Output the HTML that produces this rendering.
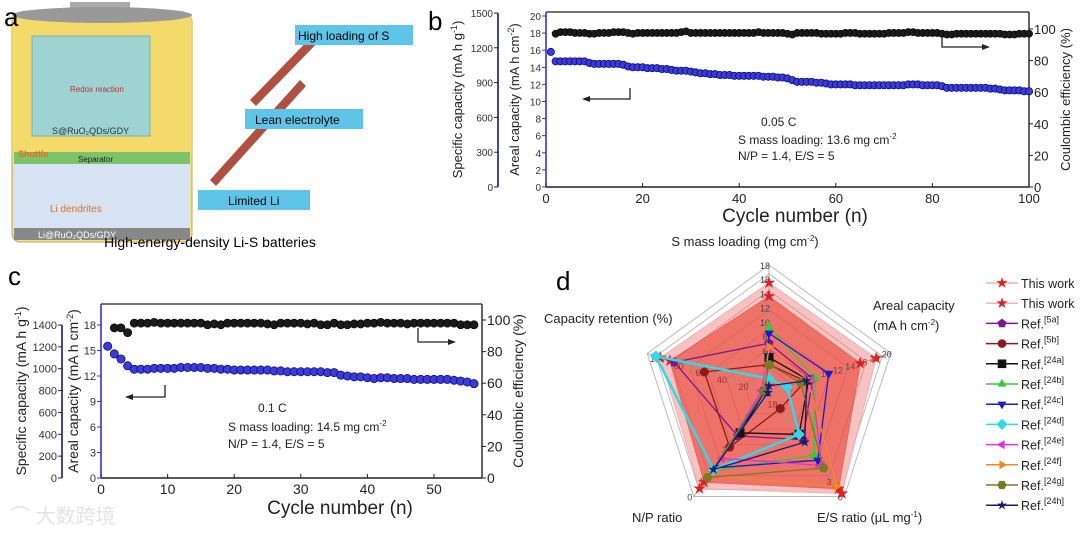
<!DOCTYPE html>
<html><head><meta charset="utf-8">
<style>
html,body{margin:0;padding:0;background:#fff;}
body{width:1080px;height:533px;overflow:hidden;position:relative;font-family:"Liberation Sans","Noto Sans CJK SC",sans-serif;}
svg{position:absolute;left:0;top:0;}
text{font-family:"Liberation Sans","Noto Sans CJK SC",sans-serif;}
</style></head>
<body>
<svg id="fig" width="1080" height="533" viewBox="0 0 1080 533">
  <g>
    <rect x="12" y="14" width="180" height="228" rx="8" fill="#f3e28a" stroke="#b9a85a"/>
    <rect x="12" y="14" width="180" height="140" fill="#f4d75e" opacity="0.7"/>
    <rect x="70" y="2" width="60" height="10" fill="#aaa"/>
    <ellipse cx="102" cy="15" rx="90" ry="8" fill="#999"/>
    <rect x="32" y="36" width="118" height="100" fill="#8fd4e6" stroke="#6ab" opacity="0.85"/>
    <text x="70" y="92" font-size="8" fill="#c03030">Redox reaction</text>
    <text x="52" y="134" font-size="9" fill="#333">S@RuO₂QDs/GDY</text>
    <rect x="14" y="152" width="176" height="12" fill="#7cc36b"/>
    <text x="78" y="162" font-size="8" fill="#222">Separator</text>
    <rect x="14" y="164" width="176" height="66" fill="#d7e3f2"/>
    <text x="18" y="157" font-size="9" fill="#e07020" font-weight="bold">Shuttle</text>
    <text x="50" y="212" font-size="10" fill="#e07020">Li dendrites</text>
    <rect x="14" y="228" width="176" height="12" fill="#888"/>
    <text x="38" y="238" font-size="9" fill="#fff">Li@RuO₂QDs/GDY</text>
    <g>
      <polygon points="210,180 300,80 306,86 216,186" fill="#b05040"/>
      <polygon points="250,100 320,28 326,34 256,106" fill="#b05040"/>
    </g>
    <rect x="198" y="190" width="112" height="20" fill="#5ec5e8"/>
    <text x="228" y="205" font-size="12">Limited Li</text>
    <rect x="245" y="109" width="118" height="20" fill="#5ec5e8"/>
    <text x="255" y="124" font-size="12">Lean electrolyte</text>
    <rect x="295" y="25" width="118" height="20" fill="#5ec5e8"/>
    <text x="298" y="40" font-size="12">High loading of S</text>
    <text x="210" y="247" font-size="14" text-anchor="middle">High-energy-density Li-S batteries</text>
  </g>
  <text x="4" y="26" font-size="26">a</text>
  <text x="428" y="30" font-size="26">b</text>
  <text x="8" y="285" font-size="26">c</text>
  <text x="556" y="290" font-size="26">d</text>
  <text x="10" y="523" font-size="20" fill="#e4e4e4">⌒ 大数跨境</text>
  <g id="pb"></g><g id="pc"></g><g id="pd"></g>
</svg>
<script>
const bCycles = Array.from({length:100},(_,i)=>i+1);
const bAreal = [15.8,14.7,14.7,14.7,14.7,14.7,14.7,14.7,
14.5,14.4,14.4,14.4,14.4,14.4,14.4,14.3,
14.1,14.0,14.0,14.0,13.9,13.9,13.9,13.8,13.8,13.7,13.6,13.6,
13.6,13.5,13.4,13.3,13.3,13.2,13.2,13.1,13.1,13.1,13.0,13.0,
13.0,13.0,13.0,13.0,12.9,12.9,12.9,12.8,12.8,12.7,
12.5,12.3,12.3,12.3,12.3,12.2,12.2,12.1,12.0,12.0,
12.0,12.0,12.0,11.9,11.9,11.9,11.9,11.9,11.9,11.9,
11.9,11.9,11.9,11.9,12.0,12.0,12.0,11.9,11.9,11.9,
11.9,11.8,11.6,11.6,11.6,11.6,11.6,11.6,11.6,11.6,
11.6,11.5,11.5,11.4,11.3,11.3,11.3,11.3,11.2,11.2];
const bCE = [97,98,98,98,97.5,97.5,97.5,97,97,97.5,97.5,97.5,98,98,98,97.5,97,97.5,97.5,97.5,97.5,97.5,97.5,97.5,97.5,97.5,98,98.5,97.5,97.5,97.5,97.5,97.5,97.5,97.5,97.5,97.5,97.5,97.5,97.5,97.5,97.5,98,97.5,97.5,97.5,97.5,97.5,97,96.5,97.5,97.5,97.5,97.5,97.5,97,97,97,97,97,97.5,97.5,97.5,97,97,97,97,97,97,97.5,97.5,97.5,97.5,98,98,97.5,97.5,97.5,97.5,97.5,97,96.5,96.5,97,97,97,97,97,97,97,97,97,97,96.5,96.5,96.5,97,97,97];
const bXTicks = [0,20,40,60,80,100];
const bArealTicks = [0,2,4,6,8,10,12,14,16,18,20];
const bSpecTicks = [0,300,600,900,1200,1500];
const bCETicks = [0,20,40,60,80,100];
const cCycles = Array.from({length:56},(_,i)=>i+1);
const cAreal = [15.5,14.6,14.0,13.2,12.8,12.8,12.8,12.9,12.9,12.9,
12.9,13.0,13.0,13.0,13.0,12.9,12.9,12.8,12.8,12.7,
12.7,12.7,12.7,12.7,12.7,12.6,12.6,12.5,12.5,12.5,
12.5,12.5,12.5,12.4,12.4,12.1,12.0,11.9,11.9,11.8,
11.7,11.8,11.8,11.7,11.7,11.7,11.6,11.6,11.6,11.6,
11.6,11.6,11.5,11.4,11.3,11.1];
const cCE = [95,95,92,98,98,98,98.5,98,98,98,98,98,98,98,97,97.5,97,98,98,98,98,98,98,97.5,97,98,98,98,98,97.5,98,97,97,98,97,97,97.5,97.5,98,98,98.5,98,98,98,97.5,98,98,98,98,98,98,98,97,97,97];
const cXTicks = [0,10,20,30,40,50];
const cArealTicks = [0,3,6,9,12,15,18];
const cSpecTicks = [0,200,400,600,800,1000,1200,1400];
const cCETicks = [0,20,40,60,80,100];
const dAxisNames = ["S mass loading","Areal capacity","E/S ratio","N/P ratio","Capacity retention"];
const dAxisMin = [0,0,20,6.5,0];
const dAxisMax = [18,20,0,0,113];
const dThisWork1 = [15.5,17.6,0.6,0.5,101];
const dThisWork2 = [13.6,15.0,1.5,0.9,92];
const dRef5a = [7,7.2,11,3.8,88];
const dRef5b = [4,6,17,3.1,60];
const dRef24a = [5,6.5,12,4,4];
const dRef24b = [9.3,7.6,8,1.6,4];
const dRef24c = [8.4,9.8,7,1.8,4];
const dRef24d = [2,3,12,1.7,105];
const dRef24e = [6.2,7,6,2.4,7];
const dRef24f = [6.5,6.4,2,1.3,5];
const dRef24g = [4,5.2,5.5,1.2,5];
const dRef24h = [1,6.2,10.5,1.7,1];
const legendLabels = ["This work","This work","Ref.","Ref.","Ref.","Ref.","Ref.","Ref.","Ref.","Ref.","Ref.","Ref."];
const legendSups = ["","","[5a]","[5b]","[24a]","[24b]","[24c]","[24d]","[24e]","[24f]","[24g]","[24h]"];

const NS="http://www.w3.org/2000/svg";
function mk(tag,attrs,parent){const e=document.createElementNS(NS,tag);for(const k in attrs)e.setAttribute(k,attrs[k]);parent.appendChild(e);return e;}
function lin(d0,d1,r0,r1){return v=>r0+(v-d0)*(r1-r0)/(d1-d0);}

function dualPanel(g,o){
  const X=lin(0,o.xMax,o.x0,o.x1), YA=lin(0,o.aMax,o.y0,o.y1), YS=lin(0,o.sMax,o.y0,o.y1), YC=lin(0,o.cMax,o.y0,o.y1);
  let e=mk('line',{x1:o.x0,y1:o.yTop,x2:o.x1,y2:o.yTop,stroke:'#222','stroke-width':1.2},g);
  
  
  e=mk('line',{x1:o.x0,y1:o.y0,x2:o.x1,y2:o.y0,stroke:'#222','stroke-width':1.4},g);
  
  
  e=mk('line',{x1:o.x0,y1:o.y0,x2:o.x0,y2:o.yTop,stroke:'#3333cc','stroke-width':1.6},g);
  
  
  e=mk('line',{x1:o.x1,y1:o.y0,x2:o.x1,y2:o.yTop,stroke:'#222','stroke-width':1.4},g);
  
  
  e=mk('line',{x1:o.sx,y1:o.y0,x2:o.sx,y2:YS(o.sMaxTick),stroke:'#1a1a6e','stroke-width':1.6},g);
  
  
  o.xTicks.forEach(t=>{
    e=mk('line',{x1:X(t),y1:o.y0,x2:X(t),y2:o.y0-4,stroke:'#222'},g);
    
    
    e=mk('text',{x:X(t),y:o.y0+16,'font-size':o.fs+3,'text-anchor':'middle',fill:'#222'},g);e.textContent=t;
    
    
  });
  o.aTicks.forEach(t=>{
    e=mk('line',{x1:o.x0-4,y1:YA(t),x2:o.x0,y2:YA(t),stroke:'#3333cc'},g);
    
    
    e=mk('text',{x:o.x0-5,y:YA(t)+4,'font-size':o.fs,'text-anchor':'end',fill:'#333'},g);e.textContent=t;
    
    
  });
  o.sTicks.forEach(t=>{
    e=mk('line',{x1:o.sx-4,y1:YS(t),x2:o.sx,y2:YS(t),stroke:'#1a1a6e'},g);
    
    
    e=mk('text',{x:o.sx-5,y:YS(t)+4,'font-size':o.fs,'text-anchor':'end',fill:'#333'},g);e.textContent=t;
    
    
  });
  o.cTicks.forEach(t=>{
    e=mk('line',{x1:o.x1,y1:YC(t),x2:o.x1+4,y2:YC(t),stroke:'#222'},g);
    
    
    e=mk('text',{x:o.x1+5,y:YC(t)+5,'font-size':o.fs+3,fill:'#222'},g);e.textContent=t;
    
    
  });
  o.cCycles.forEach((c,i)=>{
    e=mk('circle',{cx:X(c),cy:YC(o.ce[i]),r:o.r,fill:'#1a1a1a',stroke:'#000','stroke-width':0.6},g);
    
    
  });
  o.aCycles.forEach((c,i)=>{
    e=mk('circle',{cx:X(c),cy:YA(o.areal[i]),r:o.r,fill:'#3b3bd8',stroke:'#0a0a80','stroke-width':0.8},g);
    
    
  });
  const tt=(x,y,txt,name,fs,rot)=>{const t=mk('text',{x:x,y:y,'font-size':fs,'text-anchor':'middle',fill:'#222',transform:rot?`rotate(-90 ${x} ${y})`:''},g);t.innerHTML=txt;return t;};
  tt(o.specTitleX,(o.y0+o.yTop)/2,'Specific capacity (mA h g<tspan dy="-5" font-size="9">-1</tspan><tspan dy="5">)</tspan>','specific-capacity-title',o.tfs,true);
  tt(o.arealTitleX,(o.y0+o.yTop)/2,'Areal capacity (mA h cm<tspan dy="-5" font-size="9">-2</tspan><tspan dy="5">)</tspan>','areal-capacity-title',o.tfs,true);
  tt(o.ceTitleX,(o.y0+o.yTop)/2,'Coulombic efficiency (%)','ce-title',o.tfs,true);
  tt(o.xTitleX,o.xTitleY,'Cycle number (n)','x-axis-title',19,false);
  const an=(x,y,txt,name)=>{const t=mk('text',{x:x,y:y,'font-size':12,fill:'#222'},g);t.innerHTML=txt;};
  an(o.ann.rateX,o.ann.y1,o.ann.rate,'rate-annotation');
  an(o.ann.x,o.ann.y2,'S mass loading: '+o.ann.load+' mg cm<tspan dy="-5" font-size="8">-2</tspan>','loading-annotation');
  an(o.ann.x,o.ann.y3,'N/P = 1.4, E/S = 5','ratio-annotation');
  const ar=(pts,tip,dir,name)=>{const p=mk('polyline',{points:pts,fill:'none',stroke:'#222','stroke-width':1.3},g);
    const [tx,ty]=tip;const h=mk('polygon',{points:dir<0?`${tx},${ty} ${tx+8},${ty-3} ${tx+8},${ty+3}`:`${tx},${ty} ${tx-8},${ty-3} ${tx-8},${ty+3}`,fill:'#222'},g);};
  ar(o.la.pts,o.la.tip,-1,'left-axis-arrow');
  ar(o.ra.pts,o.ra.tip,1,'right-axis-arrow');
}

dualPanel(document.getElementById('pb'),{x0:546,x1:1029,y0:187,y1:16,yTop:12,xMax:100,aMax:20,sMax:1500*171/174,sMaxTick:1500,cMax:100*171/158,
  sx:498,xTicks:bXTicks,aTicks:bArealTicks,sTicks:bSpecTicks,cTicks:bCETicks,fs:10,tfs:13,r:3.6,
  cCycles:bCycles.slice(1),ce:bCE,aCycles:bCycles,areal:bAreal,
  specTitleX:462,arealTitleX:519,ceTitleX:1070,xTitleX:795,xTitleY:222,
  ann:{rate:'0.05 C',rateX:761,x:738,y1:126,y2:144,y3:160,load:'13.6'},
  la:{pts:'630,88 630,99 584,99',tip:[582,99]},ra:{pts:'942,36 942,47 988,47',tip:[990,47]}});
dualPanel(document.getElementById('pc'),{x0:101,x1:482,y0:478,y1:325,yTop:304,xMax:50*(482-101)/(434-101),aMax:18,sMax:1400,sMaxTick:1400,cMax:100*153/158,
  sx:62,xTicks:cXTicks,aTicks:cArealTicks,sTicks:cSpecTicks,cTicks:cCETicks,fs:11,tfs:14,r:4.1,
  cCycles:cCycles.slice(1),ce:cCE,aCycles:cCycles,areal:cAreal,
  specTitleX:26,arealTitleX:78,ceTitleX:523,xTitleX:340,xTitleY:514,
  ann:{rate:'0.1 C',rateX:258,x:228,y1:412,y2:431,y3:448,load:'14.5'},
  la:{pts:'165,385 165,397 127,397',tip:[125,397]},ra:{pts:'418,328 418,342 454,342',tip:[456,342]}});

(function(){
  const g=document.getElementById('pd');
  const cx=769, cy=393, R=128;
  const ang=[-90,-18,54,126,198].map(a=>a*Math.PI/180);
  const frac=(i,v)=>(v-dAxisMin[i])/(dAxisMax[i]-dAxisMin[i]);
  const pt=(i,f)=>[cx+R*f*Math.cos(ang[i]), cy+R*f*Math.sin(ang[i])];
  const poly=vals=>vals.map((v,i)=>pt(i,frac(i,v)).join(',')).join(' ');
  let e;
  [1.0,0.93].forEach(f=>{
    e=mk('polygon',{points:[0,1,2,3,4].map(i=>pt(i,f).join(',')).join(' '),fill:'none',stroke:'#bbb','stroke-width':1},g);
    
    
  });
  e=mk('polygon',{points:poly(dThisWork1),fill:'#f6b8b8',opacity:0.85,stroke:'#f3a0a0'},g);
  
  
  e=mk('polygon',{points:poly(dThisWork2),fill:'#ef6a60',opacity:0.9,stroke:'#e85a50'},g);
  
  
  [0.2,0.35,0.5,0.65,0.8].forEach(f=>{
    e=mk('polygon',{points:[0,1,2,3,4].map(i=>pt(i,f).join(',')).join(' '),fill:'none',stroke:'#c45050','stroke-width':0.6,opacity:0.6},g);
    
    
  });
  [0,1,2,3,4].forEach(i=>{
    const p=pt(i,1);
    e=mk('line',{x1:cx,y1:cy,x2:p[0],y2:p[1],stroke:'#999','stroke-width':0.8},g);
    
    
  });
  const tickVals=[[2,4,6,8,10,12,14,16,18],[8,10,12,14,16,18,20],[18,12,6,3,0],[5,4,3,1,0],[20,40,60,80,100]];
  tickVals.forEach((arr,i)=>arr.forEach(v=>{
    const p=pt(i,frac(i,v));
    e=mk('text',{x:p[0]-4,y:p[1]+4,'font-size':9,fill:(i==0||frac(i,v)>0.95)?'#444':'#a03030','text-anchor':'middle'},g);e.textContent=v;
    
    
  }));
  const colors=['#e02020','#e02020','#7a1a8a','#8b1a1a','#111','#33cc33','#1a1acc','#30d8e8','#e030e0','#f08a20','#7a7a20','#1a1a70'];
  const lineColors=['#f5b0b0','#f5b0b0','#7a1a8a','#8b1a1a','#111','#33cc33','#1a1acc','#30d8e8','#e030e0','#f08a20','#7a7a20','#1a1a70'];
  const shapes=['star','star','pent','circ','sq','tri','dtri','dia','ltri','rtri','hex','star'];
  const series=[dThisWork1,dThisWork2,dRef5a,dRef5b,dRef24a,dRef24b,dRef24c,dRef24d,dRef24e,dRef24f,dRef24g,dRef24h];
  function marker(shape,x,y,s,col,par){
    let pts;
    const reg=(n,r,rot)=>Array.from({length:n},(_,k)=>{const a=rot+k*2*Math.PI/n;return [x+r*Math.cos(a),y+r*Math.sin(a)].join(',');}).join(' ');
    if(shape==='circ') return mk('circle',{cx:x,cy:y,r:s,fill:col},par);
    if(shape==='sq') return mk('rect',{x:x-s,y:y-s,width:2*s,height:2*s,fill:col},par);
    if(shape==='star'){pts=Array.from({length:10},(_,k)=>{const r=k%2?s*0.45:s*1.2;const a=-Math.PI/2+k*Math.PI/5;return [x+r*Math.cos(a),y+r*Math.sin(a)].join(',');}).join(' ');}
    else if(shape==='pent') pts=reg(5,s*1.1,-Math.PI/2);
    else if(shape==='tri') pts=reg(3,s*1.2,-Math.PI/2);
    else if(shape==='dtri') pts=reg(3,s*1.2,Math.PI/2);
    else if(shape==='ltri') pts=reg(3,s*1.2,Math.PI);
    else if(shape==='rtri') pts=reg(3,s*1.2,0);
    else if(shape==='dia') pts=reg(4,s*1.3,0);
    else pts=reg(6,s*1.1,0);
    return mk('polygon',{points:pts,fill:col},par);
  }
  series.forEach((vals,si)=>{
    if(si>1){
      e=mk('polygon',{points:poly(vals),fill:'none',stroke:lineColors[si],'stroke-width':si==7?2.5:1.3},g);
      
      
    }
    vals.forEach((v,i)=>{
      const p=pt(i,frac(i,v));
      const m=marker(shapes[si],p[0],p[1],si<2?5.5:4.5,colors[si],g);
      
      
    });
  });
  const lab=(x,y,html,name,anchor)=>{const t=mk('text',{x:x,y:y,'font-size':13,fill:'#222','text-anchor':anchor||'start'},g);t.innerHTML=html;};
  lab(745,246,'S mass loading (mg cm<tspan dy="-5" font-size="8">-2</tspan><tspan dy="5">)</tspan>','s-loading-axis-title','middle');
  lab(873,310,'Areal capacity','areal-axis-title');
  lab(873,330,'(mA h cm<tspan dy="-5" font-size="8">-2</tspan><tspan dy="5">)</tspan>','areal-axis-unit');
  lab(544,323,'Capacity retention (%)','retention-axis-title');
  lab(632,522,'N/P ratio','np-axis-title');
  lab(817,522,'E/S ratio (μL mg<tspan dy="-5" font-size="8">-1</tspan><tspan dy="5">)</tspan>','es-axis-title');
  legendLabels.forEach((l,i)=>{
    const y=283+i*20.2;
    e=mk('line',{x1:986,y1:y,x2:1018,y2:y,stroke:lineColors[i],'stroke-width':1.5},g);
    
    
    const m=marker(shapes[i],1002,y,i<2?5:4.3,colors[i],g);
    
    
    const t=mk('text',{x:1021,y:y+5,'font-size':12.5,fill:'#222'},g);
    t.innerHTML=l+(legendSups[i]?'<tspan dy="-6" font-size="9">'+legendSups[i]+'</tspan>':'');
    
    
  });
})();
</script>
</body></html>
